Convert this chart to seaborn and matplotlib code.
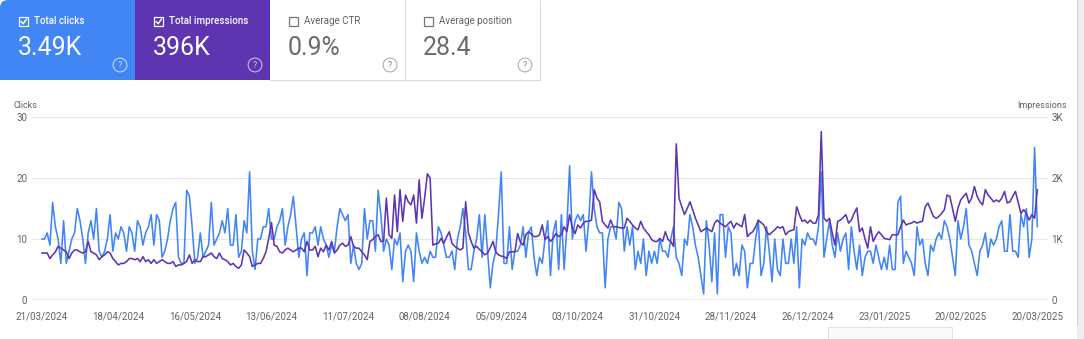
import matplotlib
matplotlib.use("Agg")
import matplotlib.pyplot as plt
import seaborn as sns
import pandas as pd
from matplotlib.patches import Rectangle, FancyBboxPatch
from matplotlib.lines import Line2D

# ---------------- data ----------------
metric_names = ["Total clicks", "Total impressions", "Average CTR", "Average position"]
metric_values = ["3.49K", "396K", "0.9%", "28.4"]
metric_selected = [True, True, False, False]

start_date = "2024-03-21"
end_date = "2025-03-20"

clicks_a = [10, 10, 11, 9, 16, 12, 10, 6, 13, 6, 8, 10,
            11, 15, 13, 10, 6, 11, 13,
            10, 15, 8, 7, 8, 10, 14, 8, 11, 10,
            12, 11, 8, 12, 11, 8, 13, 12, 9, 11,
            12, 14, 9, 14, 13, 7, 8,
            10, 13, 15, 16, 7, 6, 6, 18, 17, 12, 6, 7,
            11, 7, 8, 9, 16, 9, 10, 11, 13, 11,
            15, 9, 9, 14, 7, 8, 13, 11, 21, 8, 5, 10, 10,
            12, 12, 15, 10, 10, 12, 13, 15, 9, 12, 14, 17, 12, 7, 10, 11, 4, 11, 11,
            12, 9, 12, 10, 9, 7, 9, 8, 12, 15, 14, 13, 14,
            6, 9, 6, 5]
clicks_b = [6, 15, 10, 13, 13, 8, 18,
            14, 8, 10,
            9, 5, 10, 9,
            11, 3, 8, 9,
            8, 3, 11, 8,
            6, 7, 6, 8,
            7, 7, 12, 11, 9,
            7, 7, 8, 5, 10, 12, 15, 11,
            5, 5, 8, 10, 14, 7, 14, 8, 2, 6,
            8, 14, 21,
            6, 6, 12, 5, 8, 8, 9,
            12, 7, 11, 12, 7, 4, 7, 6, 10,
            13, 4, 11, 13, 5, 14, 5, 12, 22,
            10, 13, 14, 13, 14, 8, 13, 21,
            15, 12, 11, 11, 2, 10, 12, 12, 10, 16, 15, 8, 12, 9,
            12, 5, 8, 6, 10, 4, 8, 6, 8,
            6, 10, 8, 8, 7, 10, 12, 7, 6,
            4, 10, 9, 14, 12, 9, 7,
            4, 1, 13, 9, 3, 11, 1, 14]
clicks_c = [14, 7, 12, 11, 4, 6, 4, 9, 8, 2, 6, 6, 10, 13, 4, 6, 12, 8, 3, 10,
            5, 4, 10, 6, 6, 10, 6, 12, 2, 10, 9, 11, 10, 10, 9, 12, 21, 7, 10, 13, 9,
            7, 11, 8, 10,
            11, 5, 12, 8,
            5, 9, 4, 7,
            8, 8, 6, 9,
            7, 5, 7, 5, 9, 5, 5, 16, 17, 6, 8, 7,
            6, 4, 12, 9,
            10, 6, 4, 9,
            8, 10, 11,
            10, 13, 12, 10,
            7, 4, 13, 10,
            12, 15, 9, 8,
            6, 4, 8, 9,
            11, 7, 10, 9, 10,
            12, 13, 8, 8, 14, 8, 8, 7, 14, 12, 15, 7, 10, 25, 12]

impr_a = [770, 770, 770, 680, 740, 790, 880, 850, 820, 790,
          680, 770, 820, 820, 790, 770, 790, 960, 790, 770,
          740, 660, 710, 740, 790, 770, 680, 630, 575, 600,
          600, 630, 680, 680, 660, 680, 630, 710, 630, 660,
          600, 660, 600, 630, 660, 630, 600, 600, 630, 550,
          575, 575, 600, 630, 740, 600, 660, 630, 630, 710,
          710, 740, 770, 710, 680, 770, 680, 660, 630, 575,
          600, 550, 520, 575, 820, 770, 710, 550, 575, 600,
          600, 680, 790, 1010, 1270, 900, 880, 790, 770, 820,
          850, 820, 790, 820, 850, 850,
          790, 960, 820, 820, 880, 710, 850, 790, 900, 820,
          960, 770, 820, 900, 930, 880, 900, 1040, 880, 850, 850]
impr_b = [790, 740, 660, 960, 990, 1040, 1070, 960, 960, 1670, 1070, 1010, 1720,
          1120, 1810, 1290, 1720, 1610, 1560, 1720, 1260, 1970, 1340, 1670, 2070, 2000,
          900, 920, 930, 1010, 930, 1030, 1120, 930, 880, 850,
          820, 850, 1610, 1100, 960, 850, 880, 830, 790, 740,
          770, 860, 960, 790, 740, 720, 710, 680, 790, 790,
          790, 1090, 950, 900, 1070, 1120, 1080, 1040, 1040, 1070,
          1230, 990, 1040, 960, 1010, 1090, 1040, 1070, 1200, 1120,
          1400, 1180, 1090, 1230, 1180, 1260, 1290, 1290, 1310, 1810,
          1670, 1610, 1290, 1230, 1180, 1310, 1200, 1200, 1190, 1180,
          1180, 1340, 1290, 1230, 1180, 1150, 1290, 1180, 1120, 1070,
          990, 960, 960, 1010, 960, 1120, 990, 960, 880, 2560,
          1670, 1530, 1400, 1500, 1610, 1480, 1340, 1230, 1120, 1150,
          1180, 1150, 1120, 1260, 1310, 1260]
impr_c = [1230, 1200, 1250, 1290, 1180, 1260, 1230, 1200, 1400, 1040,
          1090, 1120, 1200, 1310, 1270, 1230, 1120, 1070, 1110, 1150,
          1200, 1180, 1200, 1070, 1120, 1140, 1150, 1530, 1400, 1290,
          1310, 1260, 1310, 1260, 1260, 1400, 2760,
          1340, 1290, 1340, 1100, 900, 1290, 1310, 1350, 1400, 1260,
          1310, 1420, 1510, 1120, 1180, 1000, 850, 1200, 960, 1050,
          1120, 1070, 1010, 1000, 990, 1070, 1070, 1070, 1200, 1310,
          1230, 1250, 1260, 1290, 1260, 1280, 1290, 1530, 1590, 1480,
          1370, 1340, 1370, 1420, 1480, 1720, 1700, 1500, 1290, 1510,
          1640, 1700, 1750, 1590, 1670, 1860, 1700, 1610, 1560, 1810,
          1720, 1670, 1610, 1640, 1610, 1670, 1780, 1590, 1610, 1700,
          1780, 1600, 1420, 1480, 1420, 1310, 1400, 1340, 1810]

clicks = clicks_a + clicks_b + clicks_c
impressions = impr_a + impr_b + impr_c

tick_labels = ["21/03/2024", "18/04/2024", "16/05/2024", "13/06/2024", "11/07/2024",
               "08/08/2024", "05/09/2024", "03/10/2024", "31/10/2024", "28/11/2024",
               "26/12/2024", "23/01/2025", "20/02/2025", "20/03/2025"]
clicks_ticks = [0, 10, 20, 30]
impr_ticks = [0, 1000, 2000, 3000]
impr_tick_labels = ["0", "1K", "2K", "3K"]

dates = pd.date_range(start_date, end_date, freq="D")
df = pd.DataFrame({"date": dates, "clicks": clicks, "impressions": impressions})
tick_dates = pd.to_datetime(tick_labels, format="%d/%m/%Y")

# ---------------- styling ----------------
sns.set_theme(style="white")
plt.rcParams['font.family'] = ['Roboto', 'DejaVu Sans']

W, H = 1084, 339
fig = plt.figure(figsize=(W / 100, H / 100), dpi=100)
fig.patch.set_facecolor("white")


def fx(x):
    return x / W


def fy(y):
    return 1 - y / H


BLUE = "#4285F4"
PURPLE = "#5E35B1"
GRAY_TXT = "#5f6368"
BORDER = "#dadce0"

# right page edge
fig.add_artist(Rectangle((fx(1077), 0), fx(1084) - fx(1077), 1, transform=fig.transFigure,
                         facecolor="#eeeeee", edgecolor="none", zorder=0))
fig.add_artist(Line2D([fx(1077), fx(1077)], [fy(325), fy(0)], transform=fig.transFigure,
                      color="#d5d5d5", lw=0.8))
# partial box at bottom
fig.add_artist(Rectangle((fx(828), fy(339)), fx(952) - fx(828), 12 / H, transform=fig.transFigure,
                         facecolor="#fafafa", edgecolor="#e3e3e3", lw=0.8, zorder=0))

# metric cards
card_w = 135
card_fill = [BLUE, PURPLE, "white", "white"]
r = 8
# rounded top-left corner of first card
fig.add_artist(FancyBboxPatch((fx(0), fy(80)), 30 / W, 80 / H,
                              boxstyle=f"round,pad=0,rounding_size={r / W}",
                              mutation_aspect=W / H, transform=fig.transFigure,
                              facecolor=BLUE, edgecolor="none", zorder=0))
fig.add_artist(Rectangle((fx(0), fy(80)), 30 / W, 40 / H, transform=fig.transFigure,
                         facecolor=BLUE, edgecolor="none", zorder=0))
for i, (name, val, sel) in enumerate(zip(metric_names, metric_values, metric_selected)):
    x0 = i * card_w
    xs = x0 + (15 if i == 0 else 0)
    fig.add_artist(Rectangle((fx(xs), fy(80)), (x0 + card_w - xs) / W, 80 / H,
                             transform=fig.transFigure,
                             facecolor=card_fill[i], edgecolor="none", zorder=0))
    txt_col = "white" if sel else GRAY_TXT
    box_col = "white" if sel else "#757575"
    # checkbox
    fig.add_artist(Rectangle((fx(x0 + 19), fy(26)), 9 / W, 9 / H, transform=fig.transFigure,
                             facecolor="none", edgecolor=box_col, lw=0.9))
    if sel:
        fig.add_artist(Line2D([fx(x0 + 21), fx(x0 + 23.2), fx(x0 + 26.5)],
                              [fy(21.5), fy(23.8), fy(19)], transform=fig.transFigure,
                              color="white", lw=1.0))
    fig.text(fx(x0 + 34), fy(21.5), name, color=txt_col, fontsize=7,
             fontweight="medium" if sel else "normal", va="center", ha="left")
    fig.text(fx(x0 + 18), fy(48), val, color=txt_col if sel else "#6b6b6b", fontsize=18,
             va="center", ha="left")
    fig.text(fx(x0 + 120), fy(65), "?", color=txt_col, alpha=0.75 if sel else 0.8, fontsize=6.2,
             ha="center", va="center",
             bbox=dict(boxstyle="circle,pad=0.28", fc="none",
                       ec=("white" if sel else "#80868b"), lw=0.7, alpha=0.75))
# borders of unselected cards
for xb in (405, 540):
    fig.add_artist(Line2D([fx(xb), fx(xb)], [fy(0), fy(80)], transform=fig.transFigure,
                          color=BORDER, lw=0.8))
fig.add_artist(Line2D([fx(270), fx(540)], [fy(80), fy(80)], transform=fig.transFigure,
                      color=BORDER, lw=0.8))

# chart
ax = fig.add_axes([fx(32), fy(300), (1048 - 32) / W, (300 - 117) / H])
ax.set_facecolor("none")
sns.lineplot(data=df, x="date", y="clicks", ax=ax, color=BLUE, lw=1.15)
ax2 = ax.twinx()
sns.lineplot(data=df, x="date", y="impressions", ax=ax2, color=PURPLE, lw=1.15)

d0 = dates[0]
ax.set_xlim(d0 - pd.Timedelta(days=3.55), d0 + pd.Timedelta(days=367.9))
ax.set_ylim(0, 30)
ax2.set_ylim(0, 3000)

ax.set_yticks(clicks_ticks)
ax.set_yticklabels([str(t) for t in clicks_ticks])
ax2.set_yticks(impr_ticks)
ax2.set_yticklabels(impr_tick_labels)
ax.set_xticks(tick_dates)
ax.set_xticklabels(tick_labels)

ax.grid(axis="y", color="#e6e6e6", lw=0.8)
ax.grid(axis="x", visible=False)
ax2.grid(False)
ax.axhline(0, color="#9aa0a6", lw=1.0, zorder=1)

for a in (ax, ax2):
    for s in a.spines.values():
        s.set_visible(False)
    a.set_xlabel("")
    a.set_ylabel("")

ax.tick_params(axis="y", length=0, pad=3.5, labelsize=7, labelcolor=GRAY_TXT)
ax.tick_params(axis="x", length=0, pad=8, labelsize=7, labelcolor=GRAY_TXT)
ax2.tick_params(axis="y", length=0, pad=2.5, labelsize=7, labelcolor=GRAY_TXT)

fig.text(fx(13), fy(105), "Clicks", fontsize=6.5, color=GRAY_TXT, ha="left", va="center")
fig.text(fx(1067), fy(105), "Impressions", fontsize=6.5, color=GRAY_TXT, ha="right", va="center")

fig.savefig("out.png", dpi=100, facecolor="white")
